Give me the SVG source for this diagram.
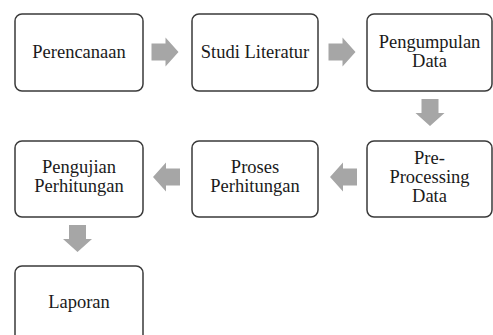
<svg xmlns="http://www.w3.org/2000/svg" width="493" height="335" viewBox="0 0 493 335">
<style>
.box{fill:#ffffff;stroke:#3a3a3a;stroke-width:1.5}
.t{font-size:18.5px;fill:#1a1a1a;text-anchor:middle}
.arr{fill:#a6a6a6}
</style>
<defs>
<path id="arrow" d="M -13.5,-8.5 H 0.5 V -14.5 L 13.5,0 L 0.5,14.5 V 8.5 H -13.5 Z"/>
</defs>
<rect width="493" height="335" fill="#ffffff"/>
<g id="connectors" class="arr">
<use href="#arrow" transform="translate(165,52)"/>
<use href="#arrow" transform="translate(342,52)"/>
<use href="#arrow" transform="translate(430,112.5) rotate(90)"/>
<use href="#arrow" transform="translate(343.5,177) rotate(180)"/>
<use href="#arrow" transform="translate(166.5,177) rotate(180)"/>
<use href="#arrow" transform="translate(77.5,238.5) rotate(90)"/>
</g>
<g font-family="'Liberation Serif', 'Times New Roman', Times, serif">
<g id="perencanaan">
<rect class="box" x="15" y="14" width="128" height="77" rx="7"/>
<text class="t" x="79" y="58">Perencanaan</text>
</g>
<g id="studi-literatur">
<rect class="box" x="192" y="14" width="126" height="77" rx="7"/>
<text class="t" x="255" y="58">Studi Literatur</text>
</g>
<g id="pengumpulan-data">
<rect class="box" x="367" y="14" width="125" height="77" rx="7"/>
<text class="t" x="429.5" y="48">Pengumpulan</text>
<text class="t" x="429.5" y="67">Data</text>
</g>
<g id="pre-processing-data">
<rect class="box" x="367" y="141" width="125" height="76" rx="7"/>
<text class="t" x="429.5" y="164">Pre-</text>
<text class="t" x="429.5" y="183">Processing</text>
<text class="t" x="429.5" y="202">Data</text>
</g>
<g id="proses-perhitungan">
<rect class="box" x="192" y="141" width="126" height="76" rx="7"/>
<text class="t" x="255" y="173">Proses</text>
<text class="t" x="255" y="192">Perhitungan</text>
</g>
<g id="pengujian-perhitungan">
<rect class="box" x="15" y="141" width="128" height="76" rx="7"/>
<text class="t" x="79" y="173">Pengujian</text>
<text class="t" x="79" y="192">Perhitungan</text>
</g>
<g id="laporan">
<rect class="box" x="15" y="266" width="128" height="77" rx="7"/>
<text class="t" x="79" y="308">Laporan</text>
</g>
</g>
</svg>
